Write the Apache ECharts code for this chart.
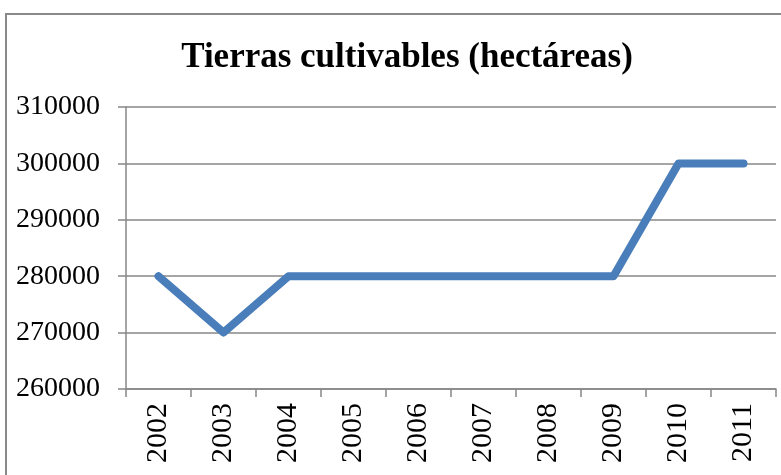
<!DOCTYPE html>
<html><head><meta charset="utf-8">
<script src="https://cdn.jsdelivr.net/npm/echarts@6/dist/echarts.min.js"></script>
<style>html,body{margin:0;padding:0;background:#fff}#c{width:781px;height:475px}</style>
</head><body><div id="c"></div>
<script>
var titleText = 'Tierras cultivables (hectáreas)';
var years = ['2002','2003','2004','2005','2006','2007','2008','2009','2010','2011'];
var values = [280000,270000,280000,280000,280000,280000,280000,280000,300000,300000];
var yMin = 260000, yMax = 310000, yStep = 10000;

var chart = echarts.init(document.getElementById('c'), null, {renderer:'canvas'});
chart.setOption({
  animation:false,
  backgroundColor:'#fff',
  title:{text:titleText,left:402,textAlign:'center',top:35,
    textStyle:{fontFamily:'Liberation Serif',fontWeight:'bold',fontSize:35,color:'#000'}},
  graphic:[{type:'rect',shape:{x:6,y:14,width:800,height:500},style:{fill:'none',stroke:'#898989',lineWidth:2},silent:true}],
  grid:{left:126,right:5,top:107,bottom:86},
  xAxis:{type:'category',data:years,boundaryGap:true,
    axisLine:{lineStyle:{color:'#878787',width:1.5}},
    axisTick:{show:true,length:8,lineStyle:{color:'#878787',width:1.5}},
    axisLabel:{rotate:90,margin:14,fontFamily:'Liberation Serif',fontSize:30,color:'#000'},
    splitLine:{show:false}},
  yAxis:{type:'value',min:yMin,max:yMax,interval:yStep,
    axisLine:{show:true,lineStyle:{color:'#878787',width:1.5}},
    axisTick:{show:true,length:8,lineStyle:{color:'#878787',width:1.5}},
    axisLabel:{margin:26,fontFamily:'Liberation Serif',fontSize:28,color:'#000',
      formatter:function(v){return String(v);}},
    splitLine:{show:true,lineStyle:{color:'#878787',width:1.5}}},
  series:[{type:'line',data:values,symbol:'none',
    lineStyle:{color:'#4A7EBB',width:8,cap:'round',join:'round'}}]
});
</script></body></html>
